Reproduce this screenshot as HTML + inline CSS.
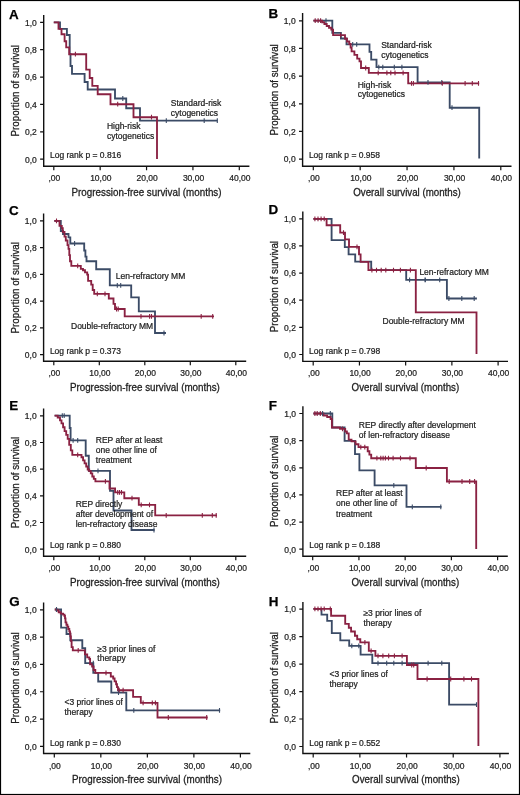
<!DOCTYPE html>
<html><head><meta charset="utf-8"><style>
html,body{margin:0;padding:0;background:#fff;}
svg{display:block;font-family:"Liberation Sans",sans-serif;will-change:transform;}
text{stroke:#222;stroke-width:0.22px;}
text.b{stroke:#000;stroke-width:0.25px;}
text.t{stroke-width:0.3px;}
</style></head><body>
<svg width="520" height="795" viewBox="0 0 520 795">
<rect x="0" y="0" width="520" height="795" fill="#fff"/>
<rect x="0.5" y="0.5" width="519" height="794" fill="none" stroke="#000" stroke-width="1.2"/>
<g><text x="9" y="18.6" class="b" font-size="13.4" font-weight="bold" fill="#000">A</text><path d="M43.7 15V166.2H249.4" fill="none" stroke="#111" stroke-width="1.4"/><path d="M40.1 159.2H43.7M40.1 131.82H43.7M40.1 104.44H43.7M40.1 77.06H43.7M40.1 49.68H43.7M40.1 22.3H43.7M53.8 166.2V170.2M100.17 166.2V170.2M146.55 166.2V170.2M192.93 166.2V170.2M239.3 166.2V170.2" stroke="#111" stroke-width="1.2"/><text x="36.8" y="162.5" font-size="8.5" text-anchor="end" fill="#222">0,0</text><text x="36.8" y="135.12" font-size="8.5" text-anchor="end" fill="#222">0,2</text><text x="36.8" y="107.74" font-size="8.5" text-anchor="end" fill="#222">0,4</text><text x="36.8" y="80.36" font-size="8.5" text-anchor="end" fill="#222">0,6</text><text x="36.8" y="52.98" font-size="8.5" text-anchor="end" fill="#222">0,8</text><text x="36.8" y="25.6" font-size="8.5" text-anchor="end" fill="#222">1,0</text><text x="54.4" y="181.2" font-size="8.5" text-anchor="middle" fill="#222">,00</text><text x="100.77" y="181.2" font-size="8.5" text-anchor="middle" fill="#222">10,00</text><text x="147.15" y="181.2" font-size="8.5" text-anchor="middle" fill="#222">20,00</text><text x="193.53" y="181.2" font-size="8.5" text-anchor="middle" fill="#222">30,00</text><text x="239.9" y="181.2" font-size="8.5" text-anchor="middle" fill="#222">40,00</text><text class="t" x="71.55" y="195.8" font-size="11.3" textLength="150" lengthAdjust="spacingAndGlyphs" fill="#222">Progression-free survival (months)</text><text class="t" transform="translate(18.7 90.75) rotate(-90)" x="-45.65" y="0" font-size="11.8" textLength="91.3" lengthAdjust="spacingAndGlyphs" fill="#222">Proportion of survival</text><text x="50" y="158.3" font-size="8.5" fill="#222">Log rank p = 0.816</text><path d="M53.8 22.4H60V28.8H66.9V35H69.7V54H70.5V66H72V73.9H84.6V82H87.7V89.5H115V98.5H126.2V108.2H140V120.6H217.5" fill="none" stroke="#3b4b66" stroke-width="1.85" stroke-linejoin="miter"/><path d="M53.8 22.4H58.5V28.8H61.5V34.2H64.6V41.2H66.2V47.3H69.2V54.2H86.2V69.6H89.7V78H92.3V85.8H97.7V94.2H110.5V104.2H133.5V117.2H157V159" fill="none" stroke="#8a2142" stroke-width="1.85" stroke-linejoin="miter"/><path d="M122.8 98.5v-2.4v4.8M166.3 120.6v-2.4v4.8M204.2 120.6v-2.4v4.8M217.3 120.6v-2.4v4.8" fill="none" stroke="#3b4b66" stroke-width="1.1"/><path d="M75.4 54.2v-2.4v4.8M117.7 104.2v-2.4v4.8M151.5 117.2v-2.4v4.8" fill="none" stroke="#8a2142" stroke-width="1.1"/><text x="106.9" y="129.2" font-size="8.5" fill="#222">High-risk</text><text x="106.9" y="138.6" font-size="8.5" fill="#222">cytogenetics</text><text x="170.8" y="106" font-size="8.5" fill="#222">Standard-risk</text><text x="170.8" y="115.6" font-size="8.5" fill="#222">cytogenetics</text></g>
<g><text x="268.5" y="18.2" class="b" font-size="13.4" font-weight="bold" fill="#000">B</text><path d="M302.6 13.1V166.2H511.5" fill="none" stroke="#111" stroke-width="1.4"/><path d="M299 159.1H302.6M299 131.44H302.6M299 103.78H302.6M299 76.12H302.6M299 48.46H302.6M299 20.8H302.6M313.3 166.2V170.2M360.18 166.2V170.2M407.05 166.2V170.2M453.93 166.2V170.2M500.8 166.2V170.2" stroke="#111" stroke-width="1.2"/><text x="295.7" y="162.4" font-size="8.5" text-anchor="end" fill="#222">0,0</text><text x="295.7" y="134.74" font-size="8.5" text-anchor="end" fill="#222">0,2</text><text x="295.7" y="107.08" font-size="8.5" text-anchor="end" fill="#222">0,4</text><text x="295.7" y="79.42" font-size="8.5" text-anchor="end" fill="#222">0,6</text><text x="295.7" y="51.76" font-size="8.5" text-anchor="end" fill="#222">0,8</text><text x="295.7" y="24.1" font-size="8.5" text-anchor="end" fill="#222">1,0</text><text x="313.9" y="181.2" font-size="8.5" text-anchor="middle" fill="#222">,00</text><text x="360.78" y="181.2" font-size="8.5" text-anchor="middle" fill="#222">10,00</text><text x="407.65" y="181.2" font-size="8.5" text-anchor="middle" fill="#222">20,00</text><text x="454.53" y="181.2" font-size="8.5" text-anchor="middle" fill="#222">30,00</text><text x="501.4" y="181.2" font-size="8.5" text-anchor="middle" fill="#222">40,00</text><text class="t" x="353.25" y="195.8" font-size="11.3" textLength="107.6" lengthAdjust="spacingAndGlyphs" fill="#222">Overall survival (months)</text><text class="t" transform="translate(277.6 89.95) rotate(-90)" x="-45.65" y="0" font-size="11.8" textLength="91.3" lengthAdjust="spacingAndGlyphs" fill="#222">Proportion of survival</text><text x="308.9" y="158.2" font-size="8.5" fill="#222">Log rank p = 0.958</text><path d="M313.4 20.6H332.3V32.8H340.9V38.5H346.5V44.3H369.5V51.9H371.2V59.6H376.5V67.1H417.6V82.3H449.7V107.7H479.2V158.5" fill="none" stroke="#3b4b66" stroke-width="1.85" stroke-linejoin="miter"/><path d="M313.4 20.6H322.1V22.2H324.4V24H326.7V26H329V27.7H331.3V29.6H333.1V35.1H345V38.7H347V41.5H349.3V44H350.6V47.5H351.6V51.4H354.4V54.9H357.2V58.6H359.5V61.4H361V68H368.8V72.8H408.2V83.3H479.2" fill="none" stroke="#8a2142" stroke-width="1.85" stroke-linejoin="miter"/><path d="M326 20.6v-2.4v4.8M352.7 44.3v-2.4v4.8M356.7 44.3v-2.4v4.8M378.8 67.1v-2.4v4.8M382.8 67.1v-2.4v4.8M394.3 67.1v-2.4v4.8M401.9 67.1v-2.4v4.8M428 82.3v-2.4v4.8M441.8 82.3v-2.4v4.8M452 107.7v-2.4v4.8" fill="none" stroke="#3b4b66" stroke-width="1.1"/><path d="M315.2 20.6v-2.4v4.8M318.1 20.6v-2.4v4.8M320.6 20.6v-2.4v4.8M340.6 35.1v-2.4v4.8M365.7 68v-2.4v4.8M378.2 72.8v-2.4v4.8M386.9 72.8v-2.4v4.8M390.8 72.8v-2.4v4.8M395 72.8v-2.4v4.8M403.1 72.8v-2.4v4.8M411.5 83.3v-2.4v4.8M413.4 83.3v-2.4v4.8M442.3 83.3v-2.4v4.8M465.1 83.3v-2.4v4.8M472.3 83.3v-2.4v4.8M478.5 83.3v-2.4v4.8" fill="none" stroke="#8a2142" stroke-width="1.1"/><text x="381.2" y="48.1" font-size="8.5" fill="#222">Standard-risk</text><text x="381.2" y="58.3" font-size="8.5" fill="#222">cytogenetics</text><text x="357.7" y="87.7" font-size="8.5" fill="#222">High-risk</text><text x="357.7" y="97.4" font-size="8.5" fill="#222">cytogenetics</text></g>
<g><text x="9" y="214.9" class="b" font-size="13.4" font-weight="bold" fill="#000">C</text><path d="M43.6 213.5V361.2H246.2" fill="none" stroke="#111" stroke-width="1.4"/><path d="M40 354.6H43.6M40 327.86H43.6M40 301.12H43.6M40 274.38H43.6M40 247.64H43.6M40 220.9H43.6M53.8 361.2V365.2M99.3 361.2V365.2M144.8 361.2V365.2M190.3 361.2V365.2M235.8 361.2V365.2" stroke="#111" stroke-width="1.2"/><text x="36.7" y="357.9" font-size="8.5" text-anchor="end" fill="#222">0,0</text><text x="36.7" y="331.16" font-size="8.5" text-anchor="end" fill="#222">0,2</text><text x="36.7" y="304.42" font-size="8.5" text-anchor="end" fill="#222">0,4</text><text x="36.7" y="277.68" font-size="8.5" text-anchor="end" fill="#222">0,6</text><text x="36.7" y="250.94" font-size="8.5" text-anchor="end" fill="#222">0,8</text><text x="36.7" y="224.2" font-size="8.5" text-anchor="end" fill="#222">1,0</text><text x="54.4" y="376.2" font-size="8.5" text-anchor="middle" fill="#222">,00</text><text x="99.9" y="376.2" font-size="8.5" text-anchor="middle" fill="#222">10,00</text><text x="145.4" y="376.2" font-size="8.5" text-anchor="middle" fill="#222">20,00</text><text x="190.9" y="376.2" font-size="8.5" text-anchor="middle" fill="#222">30,00</text><text x="236.4" y="376.2" font-size="8.5" text-anchor="middle" fill="#222">40,00</text><text class="t" x="69.9" y="390.8" font-size="11.3" textLength="150" lengthAdjust="spacingAndGlyphs" fill="#222">Progression-free survival (months)</text><text class="t" transform="translate(18.6 287.75) rotate(-90)" x="-45.65" y="0" font-size="11.8" textLength="91.3" lengthAdjust="spacingAndGlyphs" fill="#222">Proportion of survival</text><text x="49.9" y="353.7" font-size="8.5" fill="#222">Log rank p = 0.373</text><path d="M54.3 220.8H60.8V231H63V234H68.5V237.4H70.3V243.5H84.2V250.5H85.4V256.6H86.5V261.2H96.2V269.2H109.8V285.4H131.2V297.4H138.8V311.3H155V333H166" fill="none" stroke="#3b4b66" stroke-width="1.85" stroke-linejoin="miter"/><path d="M54.3 220.8H59.5V225.8H61.8V228.2H62.8V232H64.5V236.6H65.8V240.5H67.5V245.1H68.5V248.9H69.3V255.1H70V261.2H71.3V265.8H80.8V268.9H83V270.2H85V272.4H87.2V274.6H88.1V280.8H91.2V284.6H92.7V290H94.2V293.8H108.8V298.5H113.5V303.8H115V309H124.7V316.3H214" fill="none" stroke="#8a2142" stroke-width="1.85" stroke-linejoin="miter"/><path d="M74.6 243.5v-2.4v4.8M117.3 285.4v-2.4v4.8M120.7 285.4v-2.4v4.8M164 333v-2.4v4.8" fill="none" stroke="#3b4b66" stroke-width="1.1"/><path d="M56.5 220.8v-2.4v4.8M77.7 265.8v-2.4v4.8M97.3 293.8v-2.4v4.8M105 293.8v-2.4v4.8M116.5 309v-2.4v4.8M118.2 309v-2.4v4.8M141 316.3v-2.4v4.8M149.6 316.3v-2.4v4.8M151.5 316.3v-2.4v4.8M201.2 316.3v-2.4v4.8M212.7 316.3v-2.4v4.8" fill="none" stroke="#8a2142" stroke-width="1.1"/><text x="115.8" y="279.2" font-size="8.5" fill="#222">Len-refractory MM</text><text x="71" y="329.2" font-size="8.5" fill="#222">Double-refractory MM</text></g>
<g><text x="268.5" y="214.3" class="b" font-size="13.4" font-weight="bold" fill="#000">D</text><path d="M302.8 211.5V361.4H508" fill="none" stroke="#111" stroke-width="1.4"/><path d="M299.2 354.5H302.8M299.2 327.36H302.8M299.2 300.22H302.8M299.2 273.08H302.8M299.2 245.94H302.8M299.2 218.8H302.8M313.2 361.4V365.4M359.43 361.4V365.4M405.65 361.4V365.4M451.88 361.4V365.4M498.1 361.4V365.4" stroke="#111" stroke-width="1.2"/><text x="295.9" y="357.8" font-size="8.5" text-anchor="end" fill="#222">0,0</text><text x="295.9" y="330.66" font-size="8.5" text-anchor="end" fill="#222">0,2</text><text x="295.9" y="303.52" font-size="8.5" text-anchor="end" fill="#222">0,4</text><text x="295.9" y="276.38" font-size="8.5" text-anchor="end" fill="#222">0,6</text><text x="295.9" y="249.24" font-size="8.5" text-anchor="end" fill="#222">0,8</text><text x="295.9" y="222.1" font-size="8.5" text-anchor="end" fill="#222">1,0</text><text x="313.8" y="376.4" font-size="8.5" text-anchor="middle" fill="#222">,00</text><text x="360.03" y="376.4" font-size="8.5" text-anchor="middle" fill="#222">10,00</text><text x="406.25" y="376.4" font-size="8.5" text-anchor="middle" fill="#222">20,00</text><text x="452.48" y="376.4" font-size="8.5" text-anchor="middle" fill="#222">30,00</text><text x="498.7" y="376.4" font-size="8.5" text-anchor="middle" fill="#222">40,00</text><text class="t" x="351.6" y="391" font-size="11.3" textLength="107.6" lengthAdjust="spacingAndGlyphs" fill="#222">Overall survival (months)</text><text class="t" transform="translate(277.8 286.65) rotate(-90)" x="-45.65" y="0" font-size="11.8" textLength="91.3" lengthAdjust="spacingAndGlyphs" fill="#222">Proportion of survival</text><text x="309.1" y="353.6" font-size="8.5" fill="#222">Log rank p = 0.798</text><path d="M313.4 218.8H331.6V240.1H344.8V247.1H348.6V254.3H355.2V261.6H371.2V270.1H406.2V279.8H446.9V298.5H476.9" fill="none" stroke="#3b4b66" stroke-width="1.85" stroke-linejoin="miter"/><path d="M313.4 218.8H326.6V225.2H340.2V232.6H345V239.4H349V246.8H359V254.3H360.6V261.8H368.4V270.1H415.8V312.3H476.5V354" fill="none" stroke="#8a2142" stroke-width="1.85" stroke-linejoin="miter"/><path d="M409.6 279.8v-2.4v4.8M425 279.8v-2.4v4.8M425.4 279.8v-2.4v4.8M439.7 279.8v-2.4v4.8M448.9 298.5v-2.4v4.8M461.8 298.5v-2.4v4.8M474.2 298.5v-2.4v4.8" fill="none" stroke="#3b4b66" stroke-width="1.1"/><path d="M314.9 218.8v-2.4v4.8M318 218.8v-2.4v4.8M321.1 218.8v-2.4v4.8M324.2 218.8v-2.4v4.8M343.5 232.6v-2.4v4.8M357 246.8v-2.4v4.8M371.9 270.1v-2.4v4.8M376.5 270.1v-2.4v4.8M381.2 270.1v-2.4v4.8M385.8 270.1v-2.4v4.8M393.5 270.1v-2.4v4.8M400.4 270.1v-2.4v4.8M410.4 270.1v-2.4v4.8" fill="none" stroke="#8a2142" stroke-width="1.1"/><text x="419.4" y="275.2" font-size="8.5" fill="#222">Len-refractory MM</text><text x="382.5" y="323.6" font-size="8.5" fill="#222">Double-refractory MM</text></g>
<g><text x="9.3" y="409.7" class="b" font-size="13.4" font-weight="bold" fill="#000">E</text><path d="M43.6 408.6V556.3H246.2" fill="none" stroke="#111" stroke-width="1.4"/><path d="M40 549.2H43.6M40 522.52H43.6M40 495.84H43.6M40 469.16H43.6M40 442.48H43.6M40 415.8H43.6M53.8 556.3V560.3M99.3 556.3V560.3M144.8 556.3V560.3M190.3 556.3V560.3M235.8 556.3V560.3" stroke="#111" stroke-width="1.2"/><text x="36.7" y="552.5" font-size="8.5" text-anchor="end" fill="#222">0,0</text><text x="36.7" y="525.82" font-size="8.5" text-anchor="end" fill="#222">0,2</text><text x="36.7" y="499.14" font-size="8.5" text-anchor="end" fill="#222">0,4</text><text x="36.7" y="472.46" font-size="8.5" text-anchor="end" fill="#222">0,6</text><text x="36.7" y="445.78" font-size="8.5" text-anchor="end" fill="#222">0,8</text><text x="36.7" y="419.1" font-size="8.5" text-anchor="end" fill="#222">1,0</text><text x="54.4" y="571.3" font-size="8.5" text-anchor="middle" fill="#222">,00</text><text x="99.9" y="571.3" font-size="8.5" text-anchor="middle" fill="#222">10,00</text><text x="145.4" y="571.3" font-size="8.5" text-anchor="middle" fill="#222">20,00</text><text x="190.9" y="571.3" font-size="8.5" text-anchor="middle" fill="#222">30,00</text><text x="236.4" y="571.3" font-size="8.5" text-anchor="middle" fill="#222">40,00</text><text class="t" x="69.9" y="585.9" font-size="11.3" textLength="150" lengthAdjust="spacingAndGlyphs" fill="#222">Progression-free survival (months)</text><text class="t" transform="translate(18.6 482.5) rotate(-90)" x="-45.65" y="0" font-size="11.8" textLength="91.3" lengthAdjust="spacingAndGlyphs" fill="#222">Proportion of survival</text><text x="49.9" y="548.3" font-size="8.5" fill="#222">Log rank p = 0.880</text><path d="M54.6 415.6H69.7V428H70.6V440.3H85.7V455.7H88.8V470.9H110V490.8H113.5V510.5H131.5V530H154.6" fill="none" stroke="#3b4b66" stroke-width="1.85" stroke-linejoin="miter"/><path d="M54.6 415.6H57.7V417.5H60V420.3H61.5V423.4H63.1V427.2H64.6V431.1H66.2V434.9H67.7V438.8H69.2V444.9H70.8V450.3H72.3V454.9H81.5V457.2H83.1V460.3H84.6V463.4H86.2V466.5H87.7V469.5H89.2V471.1H90.8V473.4H92.3V476.5H93.8V478.8H95.4V481.3H109.5V488.5H115.1V492.3H124.3V498.2H138.8V504.8H155.2V515.4H216.9" fill="none" stroke="#8a2142" stroke-width="1.85" stroke-linejoin="miter"/><path d="M62.3 415.6v-2.4v4.8M64.2 415.6v-2.4v4.8M73.1 440.3v-2.4v4.8M77.7 440.3v-2.4v4.8M98 470.9v-2.4v4.8M154 530v-2.4v4.8" fill="none" stroke="#3b4b66" stroke-width="1.1"/><path d="M77.7 454.9v-2.4v4.8M105.4 481.3v-2.4v4.8M117.7 492.3v-2.4v4.8M119.5 492.3v-2.4v4.8M121.5 492.3v-2.4v4.8M132 498.2v-2.4v4.8M141.2 504.8v-2.4v4.8M149.5 504.8v-2.4v4.8M166.2 515.4v-2.4v4.8M202.3 515.4v-2.4v4.8M212.3 515.4v-2.4v4.8M216.2 515.4v-2.4v4.8" fill="none" stroke="#8a2142" stroke-width="1.1"/><text x="95.8" y="443" font-size="8.5" fill="#222">REP after at least</text><text x="95.8" y="452.85" font-size="8.5" fill="#222">one other line of</text><text x="95.8" y="462.7" font-size="8.5" fill="#222">treatment</text><text x="75.7" y="506.9" font-size="8.5" fill="#222">REP directly</text><text x="75.7" y="516.75" font-size="8.5" fill="#222">after development of</text><text x="75.7" y="526.6" font-size="8.5" fill="#222">len-refractory disease</text></g>
<g><text x="268.8" y="409.7" class="b" font-size="13.4" font-weight="bold" fill="#000">F</text><path d="M302.9 406.3V556.2H507.8" fill="none" stroke="#111" stroke-width="1.4"/><path d="M299.3 549.2H302.9M299.3 522.06H302.9M299.3 494.92H302.9M299.3 467.78H302.9M299.3 440.64H302.9M299.3 413.5H302.9M312.7 556.2V560.2M358.93 556.2V560.2M405.15 556.2V560.2M451.38 556.2V560.2M497.6 556.2V560.2" stroke="#111" stroke-width="1.2"/><text x="296" y="552.5" font-size="8.5" text-anchor="end" fill="#222">0,0</text><text x="296" y="525.36" font-size="8.5" text-anchor="end" fill="#222">0,2</text><text x="296" y="498.22" font-size="8.5" text-anchor="end" fill="#222">0,4</text><text x="296" y="471.08" font-size="8.5" text-anchor="end" fill="#222">0,6</text><text x="296" y="443.94" font-size="8.5" text-anchor="end" fill="#222">0,8</text><text x="296" y="416.8" font-size="8.5" text-anchor="end" fill="#222">1,0</text><text x="313.3" y="571.2" font-size="8.5" text-anchor="middle" fill="#222">,00</text><text x="359.53" y="571.2" font-size="8.5" text-anchor="middle" fill="#222">10,00</text><text x="405.75" y="571.2" font-size="8.5" text-anchor="middle" fill="#222">20,00</text><text x="451.98" y="571.2" font-size="8.5" text-anchor="middle" fill="#222">30,00</text><text x="498.2" y="571.2" font-size="8.5" text-anchor="middle" fill="#222">40,00</text><text class="t" x="351.55" y="585.8" font-size="11.3" textLength="107.6" lengthAdjust="spacingAndGlyphs" fill="#222">Overall survival (months)</text><text class="t" transform="translate(277.9 481.35) rotate(-90)" x="-45.65" y="0" font-size="11.8" textLength="91.3" lengthAdjust="spacingAndGlyphs" fill="#222">Proportion of survival</text><text x="309.2" y="548.3" font-size="8.5" fill="#222">Log rank p = 0.188</text><path d="M313.4 413.5H332.3V427.5H344.6V440.9H355V454.1H359.4V470.4H374.6V485.4H406.5V506.9H441.5" fill="none" stroke="#3b4b66" stroke-width="1.85" stroke-linejoin="miter"/><path d="M313.4 413.5H323.4V415.5H327.2V417H330.6V419H331.9V427.5H340V428.8H345.2V431.5H346.9V433.3H348.7V439.6H351.5V441.3H355.6V444.2H358.5V447.1H367.7V451.2H369.4V454.6H371.2V458.2H415.8V468H446.9V481.5H476.2V548.9" fill="none" stroke="#8a2142" stroke-width="1.85" stroke-linejoin="miter"/><path d="M322.6 413.5v-2.4v4.8M330.3 413.5v-2.4v4.8M393.8 485.4v-2.4v4.8M412.3 506.9v-2.4v4.8M440.8 506.9v-2.4v4.8" fill="none" stroke="#3b4b66" stroke-width="1.1"/><path d="M314.9 413.5v-2.4v4.8M317.2 413.5v-2.4v4.8M320.3 413.5v-2.4v4.8M342.5 428.8v-2.4v4.8M360.8 447.1v-2.4v4.8M364.8 447.1v-2.4v4.8M376.9 458.2v-2.4v4.8M380.8 458.2v-2.4v4.8M383.1 458.2v-2.4v4.8M385.4 458.2v-2.4v4.8M388.5 458.2v-2.4v4.8M393.1 458.2v-2.4v4.8M400.5 458.2v-2.4v4.8M410 458.2v-2.4v4.8M426.2 468v-2.4v4.8M449.2 481.5v-2.4v4.8M462 481.5v-2.4v4.8M469.7 481.5v-2.4v4.8M474.6 481.5v-2.4v4.8" fill="none" stroke="#8a2142" stroke-width="1.1"/><text x="358.8" y="428" font-size="8.5" fill="#222">REP directly after development</text><text x="358.8" y="438.1" font-size="8.5" fill="#222">of len-refractory disease</text><text x="336.1" y="496.2" font-size="8.5" fill="#222">REP after at least</text><text x="336.1" y="506.35" font-size="8.5" fill="#222">one other line of</text><text x="336.1" y="516.5" font-size="8.5" fill="#222">treatment</text></g>
<g><text x="9.3" y="606.4" class="b" font-size="13.4" font-weight="bold" fill="#000">G</text><path d="M43.6 602.5V753.5H250.3" fill="none" stroke="#111" stroke-width="1.4"/><path d="M40 746.4H43.6M40 719.08H43.6M40 691.76H43.6M40 664.44H43.6M40 637.12H43.6M40 609.8H43.6M54.3 753.5V757.5M100.83 753.5V757.5M147.35 753.5V757.5M193.88 753.5V757.5M240.4 753.5V757.5" stroke="#111" stroke-width="1.2"/><text x="36.7" y="749.7" font-size="8.5" text-anchor="end" fill="#222">0,0</text><text x="36.7" y="722.38" font-size="8.5" text-anchor="end" fill="#222">0,2</text><text x="36.7" y="695.06" font-size="8.5" text-anchor="end" fill="#222">0,4</text><text x="36.7" y="667.74" font-size="8.5" text-anchor="end" fill="#222">0,6</text><text x="36.7" y="640.42" font-size="8.5" text-anchor="end" fill="#222">0,8</text><text x="36.7" y="613.1" font-size="8.5" text-anchor="end" fill="#222">1,0</text><text x="54.9" y="768.5" font-size="8.5" text-anchor="middle" fill="#222">,00</text><text x="101.42" y="768.5" font-size="8.5" text-anchor="middle" fill="#222">10,00</text><text x="147.95" y="768.5" font-size="8.5" text-anchor="middle" fill="#222">20,00</text><text x="194.47" y="768.5" font-size="8.5" text-anchor="middle" fill="#222">30,00</text><text x="241" y="768.5" font-size="8.5" text-anchor="middle" fill="#222">40,00</text><text class="t" x="71.95" y="783.1" font-size="11.3" textLength="150" lengthAdjust="spacingAndGlyphs" fill="#222">Progression-free survival (months)</text><text class="t" transform="translate(18.6 678.1) rotate(-90)" x="-45.65" y="0" font-size="11.8" textLength="91.3" lengthAdjust="spacingAndGlyphs" fill="#222">Proportion of survival</text><text x="49.9" y="745.5" font-size="8.5" fill="#222">Log rank p = 0.830</text><path d="M54.8 609.5H61.1V627.6H66.5V634H70.3V640.2H82.3V648.1H85.2V663.1H93.3V672.9H98.2V681.5H111.3V692.6H126.3V710.3H220.2" fill="none" stroke="#3b4b66" stroke-width="1.85" stroke-linejoin="miter"/><path d="M54.8 609.5H56.8V610.5H58.7V612.2H60.7V613.6H63.1V614.6H64.5V616H65V618.4H65.5V622.3H66.4V624.7H67.4V626.6H68.3V629H69.3V631.4H70V633.3H70.4V636.3H70.9V640.9H71.6V647.1H72.8V650.3H84.9V654.4H87.2V657.3H89.3V659H90.1V664.2H92.1V666.5H93.6V670H95.3V672.8H110.8V676.5H113.2V678.5H114.6V681.3H116.1V684.2H117V687.1H118V690.2H133.1V696.9H140.8V702.8H157.5V717.5H207.7" fill="none" stroke="#8a2142" stroke-width="1.85" stroke-linejoin="miter"/><path d="M56.5 609.5v-2.4v4.8M93.3 663.1v-2.4v4.8M118.5 692.6v-2.4v4.8M133.8 710.3v-2.4v4.8M219.5 710.3v-2.4v4.8" fill="none" stroke="#3b4b66" stroke-width="1.1"/><path d="M78.2 650.3v-2.4v4.8M106 672.8v-2.4v4.8M119.2 690.2v-2.4v4.8M123.1 690.2v-2.4v4.8M143.1 702.8v-2.4v4.8M152.3 702.8v-2.4v4.8M155.4 702.8v-2.4v4.8M168.3 717.5v-2.4v4.8M206.7 717.5v-2.4v4.8" fill="none" stroke="#8a2142" stroke-width="1.1"/><text x="97.3" y="651.6" font-size="8.5" fill="#222">≥3 prior lines of</text><text x="97.3" y="661.2" font-size="8.5" fill="#222">therapy</text><text x="64.5" y="705.2" font-size="8.5" fill="#222">&lt;3 prior lines of</text><text x="64.5" y="714.8" font-size="8.5" fill="#222">therapy</text></g>
<g><text x="268.8" y="605.9" class="b" font-size="13.4" font-weight="bold" fill="#000">H</text><path d="M302.9 601.9V753.5H508.9" fill="none" stroke="#111" stroke-width="1.4"/><path d="M299.3 746.5H302.9M299.3 719.02H302.9M299.3 691.54H302.9M299.3 664.06H302.9M299.3 636.58H302.9M299.3 609.1H302.9M313.2 753.5V757.5M359.88 753.5V757.5M406.55 753.5V757.5M453.22 753.5V757.5M499.9 753.5V757.5" stroke="#111" stroke-width="1.2"/><text x="296" y="749.8" font-size="8.5" text-anchor="end" fill="#222">0,0</text><text x="296" y="722.32" font-size="8.5" text-anchor="end" fill="#222">0,2</text><text x="296" y="694.84" font-size="8.5" text-anchor="end" fill="#222">0,4</text><text x="296" y="667.36" font-size="8.5" text-anchor="end" fill="#222">0,6</text><text x="296" y="639.88" font-size="8.5" text-anchor="end" fill="#222">0,8</text><text x="296" y="612.4" font-size="8.5" text-anchor="end" fill="#222">1,0</text><text x="313.8" y="768.5" font-size="8.5" text-anchor="middle" fill="#222">,00</text><text x="360.48" y="768.5" font-size="8.5" text-anchor="middle" fill="#222">10,00</text><text x="407.15" y="768.5" font-size="8.5" text-anchor="middle" fill="#222">20,00</text><text x="453.82" y="768.5" font-size="8.5" text-anchor="middle" fill="#222">30,00</text><text x="500.5" y="768.5" font-size="8.5" text-anchor="middle" fill="#222">40,00</text><text class="t" x="352.1" y="783.1" font-size="11.3" textLength="107.6" lengthAdjust="spacingAndGlyphs" fill="#222">Overall survival (months)</text><text class="t" transform="translate(277.9 677.8) rotate(-90)" x="-45.65" y="0" font-size="11.8" textLength="91.3" lengthAdjust="spacingAndGlyphs" fill="#222">Proportion of survival</text><text x="309.2" y="745.6" font-size="8.5" fill="#222">Log rank p = 0.552</text><path d="M313.4 608.9H321.5V614.6H327.2V620.8H331.8V633.1H340.3V640.3H349.2V645.8H360.6V654.6H372.3V663.1H449.1V704.6H477" fill="none" stroke="#3b4b66" stroke-width="1.85" stroke-linejoin="miter"/><path d="M313.4 608.9H331.1V615.7H345.2V623.8H348.8V627.7H351.1V631.5H354.9V635.7H357.2V639.2H360.3V642.3H368.8V650.8H375.4V655.8H406.9V665H417.5V679H478.4V746.1" fill="none" stroke="#8a2142" stroke-width="1.85" stroke-linejoin="miter"/><path d="M351.8 645.8v-2.4v4.8M358.8 645.8v-2.4v4.8M378 663.1v-2.4v4.8M386.7 663.1v-2.4v4.8M393.8 663.1v-2.4v4.8M402.1 663.1v-2.4v4.8M428.1 663.1v-2.4v4.8M441.8 663.1v-2.4v4.8M476.5 704.6v-2.4v4.8" fill="none" stroke="#3b4b66" stroke-width="1.1"/><path d="M314.9 608.9v-2.4v4.8M318 608.9v-2.4v4.8M321.1 608.9v-2.4v4.8M324.2 608.9v-2.4v4.8M330.3 608.9v-2.4v4.8M364.9 642.3v-2.4v4.8M371.1 650.8v-2.4v4.8M378 655.8v-2.4v4.8M382.9 655.8v-2.4v4.8M388.7 655.8v-2.4v4.8M394.4 655.8v-2.4v4.8M402.1 655.8v-2.4v4.8M411.7 665v-2.4v4.8M413.7 665v-2.4v4.8M427.1 679v-2.4v4.8M450.7 679v-2.4v4.8M463.9 679v-2.4v4.8M471.5 679v-2.4v4.8" fill="none" stroke="#8a2142" stroke-width="1.1"/><text x="363.4" y="615.9" font-size="8.5" fill="#222">≥3 prior lines of</text><text x="363.4" y="625.5" font-size="8.5" fill="#222">therapy</text><text x="329.5" y="677.2" font-size="8.5" fill="#222">&lt;3 prior lines of</text><text x="329.5" y="686.8" font-size="8.5" fill="#222">therapy</text></g>
</svg>
</body></html>
